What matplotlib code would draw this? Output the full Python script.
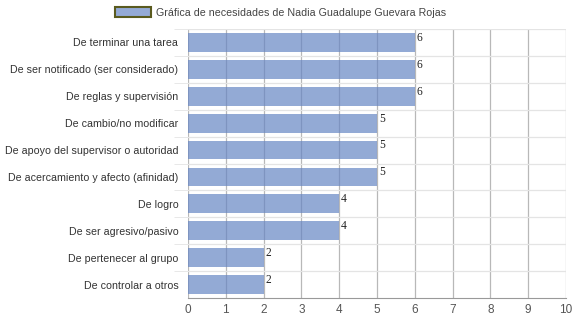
import matplotlib
matplotlib.use('Agg')
from matplotlib import pyplot as plt
from matplotlib.patches import Patch
import numpy as np

# data
categorias = ['De terminar una tarea', 'De ser notificado (ser considerado)',
              'De reglas y supervisión', 'De cambio/no modificar',
              'De apoyo del supervisor o autoridad', 'De acercamiento y afecto (afinidad)',
              'De logro', 'De ser agresivo/pasivo', 'De pertenecer al grupo',
              'De controlar a otros']
valores = [6, 6, 6, 5, 5, 5, 4, 4, 2, 2]
titulo = 'Gráfica de necesidades de Nadia Guadalupe Guevara Rojas'

plt.rcParams['font.family'] = ['Liberation Sans', 'DejaVu Sans']

fig = plt.figure(figsize=(5.74, 3.23), dpi=100)
ax = fig.add_axes([188/574, 25/323, 378/574, 269/323])

y = np.arange(len(categorias))
ax.barh(y, valores, height=0.7, color='#6686c4', alpha=0.7, zorder=3)

# value labels
for yi, v in zip(y, valores):
    ax.text(v + 0.05, yi - 0.17, str(v), fontsize=8.3, family='Liberation Serif',
            color='#222222', va='center', ha='left', zorder=4)

ax.set_xlim(0, 10)
ax.set_ylim(len(categorias) - 0.5, -0.5)
ax.set_xticks(range(0, 11))
ax.set_yticks(y)
ax.set_yticklabels(categorias)
ax.set_yticks(np.arange(-0.5, len(categorias) - 0.5, 1), minor=True)

ax.grid(True, axis='x', color='#b8b8b8', linewidth=0.9, zorder=1)
ax.grid(True, axis='y', which='minor', color='#e4e4e4', linewidth=0.9, zorder=1)

ax.tick_params(axis='y', which='major', length=0, pad=7, labelsize=7.7, labelcolor='#333333')
ax.tick_params(axis='y', which='minor', length=10, color='#e4e4e4')
ax.tick_params(axis='x', length=0, pad=4, labelsize=8.5, labelcolor='#555555')

for s in ['top', 'right', 'left']:
    ax.spines[s].set_visible(False)
ax.spines['bottom'].set_color('#999999')

# legend
h = [Patch(facecolor='#94aad6', edgecolor='#5a5a1e', linewidth=1.5, label=titulo)]
fig.legend(handles=h, loc='upper left', bbox_to_anchor=(108/574, 1.0), frameon=False,
           fontsize=7.7, handlelength=3.3, handleheight=1.0, handletextpad=0.5,
           labelcolor='#444444', borderaxespad=0.3)

plt.savefig('out.png', dpi=100)
